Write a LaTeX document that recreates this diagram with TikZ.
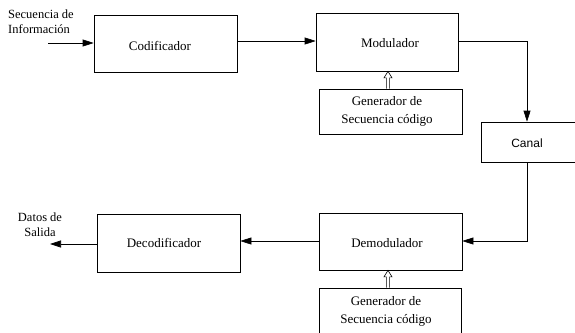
\documentclass[tikz,border=0pt]{standalone}
\usepackage{fontspec}
\setmainfont{Liberation Serif}
\newfontfamily\canalfont{Liberation Sans}
\usetikzlibrary{arrows.meta,calc}
\begin{document}
\begin{tikzpicture}[x=1pt,y=-1pt,
  blk/.style={draw, line width=0.7pt, inner sep=0pt, font=\fontsize{13}{15}\selectfont},
  txt/.style={inner sep=0pt, font=\fontsize{13}{15}\selectfont},
  conn/.style={line width=0.7pt},
  arr/.style={conn, -{Triangle[length=11pt,width=7pt]}},
  hol/.style={line width=0.6pt, line join=miter},
  lbl/.style={font=\fontsize{12.5}{15}\selectfont, align=left, inner sep=0pt}]
\clip (0,0) rectangle (575,332);
\fill[white] (0,0) rectangle (575,332);
% blocks
\node[blk, minimum width=143pt, minimum height=57pt] (cod) at (165.5,43.5) {};
\node[txt] (codt) at (160,46) {Codificador};
\node[blk, minimum width=142pt, minimum height=58pt] (mod) at (387,42) {};
\node[txt] (modt) at (390,43) {Modulador};
\node[blk, minimum width=143pt, minimum height=45pt] (gen1) at (390.5,111.5) {};
\node[txt, align=center, font=\fontsize{13}{18}\selectfont] (gen1t) at (387,111) {Generador de\\Secuencia código};
\node[blk, minimum width=120pt, minimum height=40pt, anchor=west] (canal) at (481,142) {};
\node[inner sep=0pt, font=\canalfont\fontsize{12}{14}\selectfont] (canalt) at (527,143) {Canal};
\node[blk, minimum width=143pt, minimum height=57pt] (dem) at (390.5,241.5) {};
\node[txt] (demt) at (387,243) {Demodulador};
\node[blk, minimum width=142pt, minimum height=57pt] (gen2) at (390,316.5) {};
\node[txt, align=center, font=\fontsize{13}{18}\selectfont] (gen2t) at (386,311) {Generador de\\Secuencia código};
\node[blk, minimum width=143pt, minimum height=58pt] (dec) at (168.5,243) {};
\node[txt] (dect) at (164,243) {Decodificador};
% labels
\node[lbl, anchor=west] (inlbl) at (8,22) {Secuencia de\\Información};
\node[lbl, align=center] (outlbl) at (40,225) {Datos de\\Salida};
% connectors
\coordinate (inp) at (48,43);
\draw[arr] (inp) -- (inp -| cod.west);
\coordinate (r1) at (0,41);
\draw[arr] (r1 -| cod.east) -- (r1 -| mod.west);
\coordinate (cx) at (527,0);
\draw[arr] (r1 -| mod.east) -| (cx |- canal.north);
\coordinate (r2) at (0,241);
\draw[arr] (cx |- canal.south) |- (r2 -| dem.east);
\draw[arr] (r2 -| dem.west) -- (r2 -| dec.east);
\coordinate (outp) at (50,244);
\draw[arr] (outp -| dec.west) -- (outp);
% hollow double arrows
\coordinate (gx) at (388,0);
\foreach \g/\t in {gen1/mod, gen2/dem}{
  \coordinate (tip) at (gx |- \t.south);
  \coordinate (bot) at (gx |- \g.north);
  \draw[hol] ($(bot)+(-1.6,0)$) -- ($(tip)+(-1.6,6.5)$) -- ($(tip)+(-4,6.5)$) -- (tip)
     -- ($(tip)+(4,6.5)$) -- ($(tip)+(1.6,6.5)$) -- ($(bot)+(1.6,0)$);
}
\end{tikzpicture}
\end{document}
